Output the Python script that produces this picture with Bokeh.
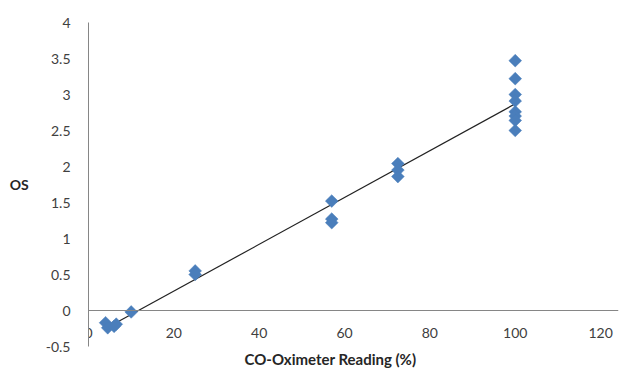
import numpy as np
from bokeh.plotting import figure
from bokeh.models import Range1d, FixedTicker, Title, ColumnDataSource
from bokeh.embed import file_html
from bokeh.resources import INLINE

# data
co_oximeter = [4, 4.5, 6, 6.5, 10,
               25, 25,
               57, 57, 57,
               72.5, 72.5, 72.5,
               100, 100, 100, 100, 100, 100, 100, 100]
os_values = [-0.17, -0.24, -0.22, -0.19, -0.02,
             0.55, 0.50,
             1.52, 1.27, 1.22,
             2.04, 1.95, 1.86,
             3.47, 3.22, 3.00, 2.91, 2.76, 2.70, 2.64, 2.50]

x_ticks = [0, 20, 40, 60, 80, 100, 120]
x_tick_labels = ["0", "20", "40", "60", "80", "100", "120"]
y_ticks = [-0.5, 0, 0.5, 1, 1.5, 2, 2.5, 3, 3.5, 4]
y_tick_labels = ["-0.5", "0", "0.5", "1", "1.5", "2", "2.5", "3", "3.5", "4"]

x_title = "CO-Oximeter Reading  (%)"
y_title = "OS"

FONT = "Lato"
TICK_COLOR = "#404040"
AXIS_COLOR = "#868686"

p = figure(width=623, height=369, output_backend="svg", toolbar_location=None,
           x_range=Range1d(0, 124.2), y_range=Range1d(-0.5, 4),
           min_border_left=88, min_border_right=5, min_border_top=22,
           min_border_bottom=0)
p.outline_line_color = None
p.xgrid.visible = False
p.ygrid.visible = False
p.background_fill_color = "white"
p.border_fill_color = "white"

# x axis crossing at y = 0
xa = p.xaxis[0]
xa.fixed_location = 0
xa.ticker = FixedTicker(ticks=x_ticks)
xa.major_label_overrides = {t: s for t, s in zip(x_ticks, x_tick_labels)}
xa.major_tick_out = 0
xa.major_tick_in = 0
xa.minor_tick_out = 0
xa.minor_tick_in = 0
xa.axis_line_color = AXIS_COLOR
xa.major_label_standoff = 17
xa.major_label_text_font = FONT
xa.major_label_text_font_size = "14px"
xa.major_label_text_color = TICK_COLOR

ya = p.yaxis[0]
ya.ticker = FixedTicker(ticks=y_ticks)
ya.major_label_overrides = {t: s for t, s in zip(y_ticks, y_tick_labels)}
ya.major_tick_out = 0
ya.major_tick_in = 0
ya.minor_tick_out = 0
ya.minor_tick_in = 0
ya.axis_line_color = AXIS_COLOR
ya.major_label_standoff = 18
ya.major_label_text_font = FONT
ya.major_label_text_font_size = "14px"
ya.major_label_text_color = TICK_COLOR
ya.axis_label = y_title
ya.axis_label_orientation = "horizontal"
ya.axis_label_standoff = 14
ya.axis_label_text_font = FONT
ya.axis_label_text_font_style = "bold"
ya.axis_label_text_font_size = "14px"
ya.axis_label_text_color = "#262626"

p.add_layout(Title(text=x_title, align="left", offset=156, standoff=3,
                   text_font=FONT, text_font_style="bold", text_font_size="15px",
                   text_color="#262626"), "below")

# linear trend line
slope, intercept = np.polyfit(co_oximeter, os_values, 1)
tx = [min(co_oximeter), max(co_oximeter)]
ty = [slope * v + intercept for v in tx]
p.line(tx, ty, line_color="#222222", line_width=1.2)

src = ColumnDataSource(data=dict(x=co_oximeter, y=os_values))
p.scatter("x", "y", source=src, marker="square", angle=np.pi / 4, size=9,
          fill_color="#4A7EBB", line_color="#4A7EBB", line_width=0.5)

open("out.html", "w").write(file_html(p, INLINE))
